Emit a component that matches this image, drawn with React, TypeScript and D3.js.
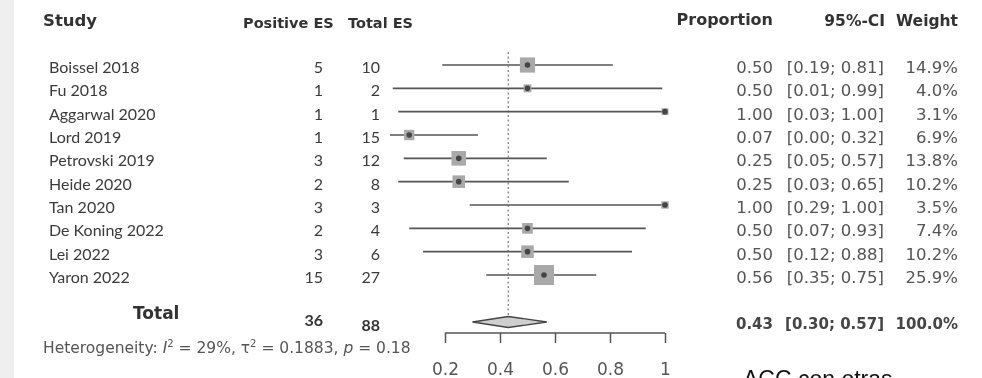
import React, { useEffect, useRef } from 'react'
import * as d3 from 'd3'

// study rows
const studies = ['Boissel 2018', 'Fu 2018', 'Aggarwal 2020', 'Lord 2019', 'Petrovski 2019', 'Heide 2020', 'Tan 2020', 'De Koning 2022', 'Lei 2022', 'Yaron 2022']
const positives = [5, 1, 1, 1, 3, 2, 3, 2, 3, 15]
const totals = [10, 2, 1, 15, 12, 8, 3, 4, 6, 27]
const proportions = [0.50, 0.50, 1.00, 0.07, 0.25, 0.25, 1.00, 0.50, 0.50, 0.56]
const ciLow = [0.19, 0.01, 0.03, 0.00, 0.05, 0.03, 0.29, 0.07, 0.12, 0.35]
const ciHigh = [0.81, 0.99, 1.00, 0.32, 0.57, 0.65, 1.00, 0.93, 0.88, 0.75]
const weights = [14.9, 4.0, 3.1, 6.9, 13.8, 10.2, 3.5, 7.4, 10.2, 25.9]

// pooled estimate
const pooled = { positive: 36, total: 88, est: 0.43, low: 0.30, high: 0.57, weight: 100.0 }
const heterogeneity = { i2: '29%', tau2: '0.1883', p: '0.18' }
const axisTicks = [0.2, 0.4, 0.6, 0.8, 1]

const NAME_FONT = 'Lato, sans-serif'
const NUM_FONT = '"DejaVu Sans", sans-serif'
const TEXT = '#3a3a3a'

export default function App() {
  const svgRef = useRef<SVGSVGElement>(null)

  useEffect(() => {
    document.body.style.margin = '0'
    const svg = d3.select(svgRef.current)
    svg.selectAll('*').remove()

    const defs = svg.append('defs')
    defs.append('filter').attr('id', 'soft')
      .attr('x', 0).attr('y', 0).attr('width', 1).attr('height', 1)
      .append('feGaussianBlur').attr('stdDeviation', 0.7)

    // light strip on the far left
    svg.append('rect').attr('x', 0).attr('y', 0).attr('width', 14).attr('height', 378).attr('fill', '#efefef')

    const g = svg.append('g').attr('filter', 'url(#soft)')
    // invisible backdrop so the filter region covers the whole chart
    g.append('rect').attr('x', 14).attr('y', 0).attr('width', 968).attr('height', 378).attr('fill', '#fff')

    const x = d3.scaleLinear().domain([0, 1]).range([390, 665])
    const y = d3.scalePoint<string>().domain(studies).range([65, 275])
    const size = d3.scaleSqrt().domain([0, 25.9]).range([0, 20])

    const rows = studies.map((s, i) => ({
      name: s, pos: positives[i], tot: totals[i], p: proportions[i],
      lo: ciLow[i], hi: ciHigh[i], w: weights[i]
    }))

    // headers
    const hdr = g.append('g').attr('fill', '#333').style('font-family', NUM_FONT).style('font-weight', 'bold')
    hdr.append('text').attr('x', 43).attr('y', 26).style('font-size', '16.5px').text('Study')
    hdr.append('text').attr('x', 243).attr('y', 28).style('font-size', '14.5px').text('Positive ES')
    hdr.append('text').attr('x', 348).attr('y', 28).style('font-size', '14.5px').text('Total ES')
    hdr.append('text').attr('x', 773).attr('y', 25).attr('text-anchor', 'end').style('font-size', '16px').text('Proportion')
    hdr.append('text').attr('x', 885).attr('y', 26).attr('text-anchor', 'end').style('font-size', '15.5px').text('95%-CI')
    hdr.append('text').attr('x', 958).attr('y', 26).attr('text-anchor', 'end').style('font-size', '15.5px').text('Weight')

    // reference line at pooled estimate
    g.append('line')
      .attr('x1', x(pooled.est)).attr('x2', x(pooled.est))
      .attr('y1', 52).attr('y2', 318)
      .attr('stroke', '#777').attr('stroke-width', 1.2)
      .attr('stroke-dasharray', '2,2.5')

    const row = g.selectAll('.row').data(rows).enter().append('g').attr('class', 'row')
      .attr('transform', d => 'translate(0,' + y(d.name) + ')')

    row.append('text').attr('x', 49).attr('y', 8)
      .style('font-family', NAME_FONT).style('font-size', '16px').attr('fill', TEXT)
      .text(d => d.name)
    row.append('text').attr('x', 323).attr('y', 8).attr('text-anchor', 'end')
      .style('font-family', NAME_FONT).style('font-size', '16px').attr('fill', TEXT)
      .text(d => d.pos)
    row.append('text').attr('x', 380).attr('y', 8).attr('text-anchor', 'end')
      .style('font-family', NAME_FONT).style('font-size', '16px').attr('fill', TEXT)
      .text(d => d.tot)

    // CI lines, squares and point
    row.append('line')
      .attr('x1', d => x(d.lo)).attr('x2', d => x(d.hi))
      .attr('stroke', '#555').attr('stroke-width', 1.6)
    row.append('rect')
      .attr('x', d => x(d.p) - size(d.w) / 2).attr('y', d => -size(d.w) / 2)
      .attr('width', d => size(d.w)).attr('height', d => size(d.w))
      .attr('fill', '#a9a9a9')
    row.append('circle')
      .attr('cx', d => x(d.p)).attr('r', 2.8).attr('fill', '#444')

    // right columns
    const num = row.append('g').style('font-family', NUM_FONT).style('font-size', '16.5px').attr('fill', '#555')
    num.append('text').attr('x', 773).attr('y', 8).attr('text-anchor', 'end').text(d => d.p.toFixed(2))
    num.append('text').attr('x', 884).attr('y', 8).attr('text-anchor', 'end')
      .text(d => '[' + d.lo.toFixed(2) + '; ' + d.hi.toFixed(2) + ']')
    num.append('text').attr('x', 958).attr('y', 8).attr('text-anchor', 'end').text(d => d.w.toFixed(1) + '%')

    // total row
    g.append('text').attr('x', 133).attr('y', 319)
      .style('font-family', NUM_FONT).style('font-weight', 'bold').style('font-size', '17px').attr('fill', '#333')
      .text('Total')
    g.append('text').attr('x', 323).attr('y', 326).attr('text-anchor', 'end')
      .style('font-family', NAME_FONT).style('font-weight', 'bold').style('font-size', '16px').attr('fill', '#333')
      .text(pooled.positive)
    g.append('text').attr('x', 380).attr('y', 331).attr('text-anchor', 'end')
      .style('font-family', NAME_FONT).style('font-weight', 'bold').style('font-size', '16px').attr('fill', '#333')
      .text(pooled.total)

    const dy = 322, dh = 5.5
    g.append('path')
      .attr('d', `M${x(pooled.low)},${dy}L${x(pooled.est)},${dy - dh}L${x(pooled.high)},${dy}L${x(pooled.est)},${dy + dh}Z`)
      .attr('fill', '#cfcfcf').attr('stroke', '#444').attr('stroke-width', 1.3)

    const tot = g.append('g').style('font-family', NUM_FONT).style('font-weight', 'bold').style('font-size', '15px').attr('fill', '#444')
    tot.append('text').attr('x', 773).attr('y', 329).attr('text-anchor', 'end').text(pooled.est.toFixed(2))
    tot.append('text').attr('x', 884).attr('y', 329).attr('text-anchor', 'end')
      .text('[' + pooled.low.toFixed(2) + '; ' + pooled.high.toFixed(2) + ']')
    tot.append('text').attr('x', 958).attr('y', 329).attr('text-anchor', 'end').text(pooled.weight.toFixed(1) + '%')

    // heterogeneity
    const het = g.append('text').attr('x', 43).attr('y', 353)
      .style('font-family', NUM_FONT).style('font-size', '15.5px').attr('fill', '#555')
    het.append('tspan').text('Heterogeneity: ')
    het.append('tspan').style('font-style', 'italic').text('I')
    het.append('tspan').attr('dy', -6).style('font-size', '10px').text('2')
    het.append('tspan').attr('dy', 6).text(' = ' + heterogeneity.i2 + ', \u03c4')
    het.append('tspan').attr('dy', -6).style('font-size', '10px').text('2')
    het.append('tspan').attr('dy', 6).text(' = ' + heterogeneity.tau2 + ', ')
    het.append('tspan').style('font-style', 'italic').text('p')
    het.append('tspan').text(' = ' + heterogeneity.p)

    // axis
    const axis = d3.axisBottom(x).tickValues(axisTicks).tickSize(10).tickPadding(20)
      .tickFormat(d => String(d))
    const ax = g.append('g').attr('transform', 'translate(0,333)').call(axis)
    ax.select('.domain').remove()
    ax.append('line').attr('x1', x(0.2)).attr('x2', x(1)).attr('stroke', '#555').attr('stroke-width', 1.5)
    ax.selectAll('.tick line').attr('stroke', '#555').attr('stroke-width', 1.5)
    ax.selectAll('.tick text').attr('fill', '#555')
      .style('font-family', NUM_FONT).style('font-size', '17px')

    // caption below, cut off by the frame
    svg.append('text').attr('x', 743).attr('y', 387)
      .style('font-family', '"Liberation Sans", Arial, sans-serif').style('font-size', '23px').attr('fill', '#111')
      .text('ACC con otras')
  }, [])

  return <svg ref={svgRef} width={982} height={378} style={{ display: 'block', background: '#fff' }} />
}
